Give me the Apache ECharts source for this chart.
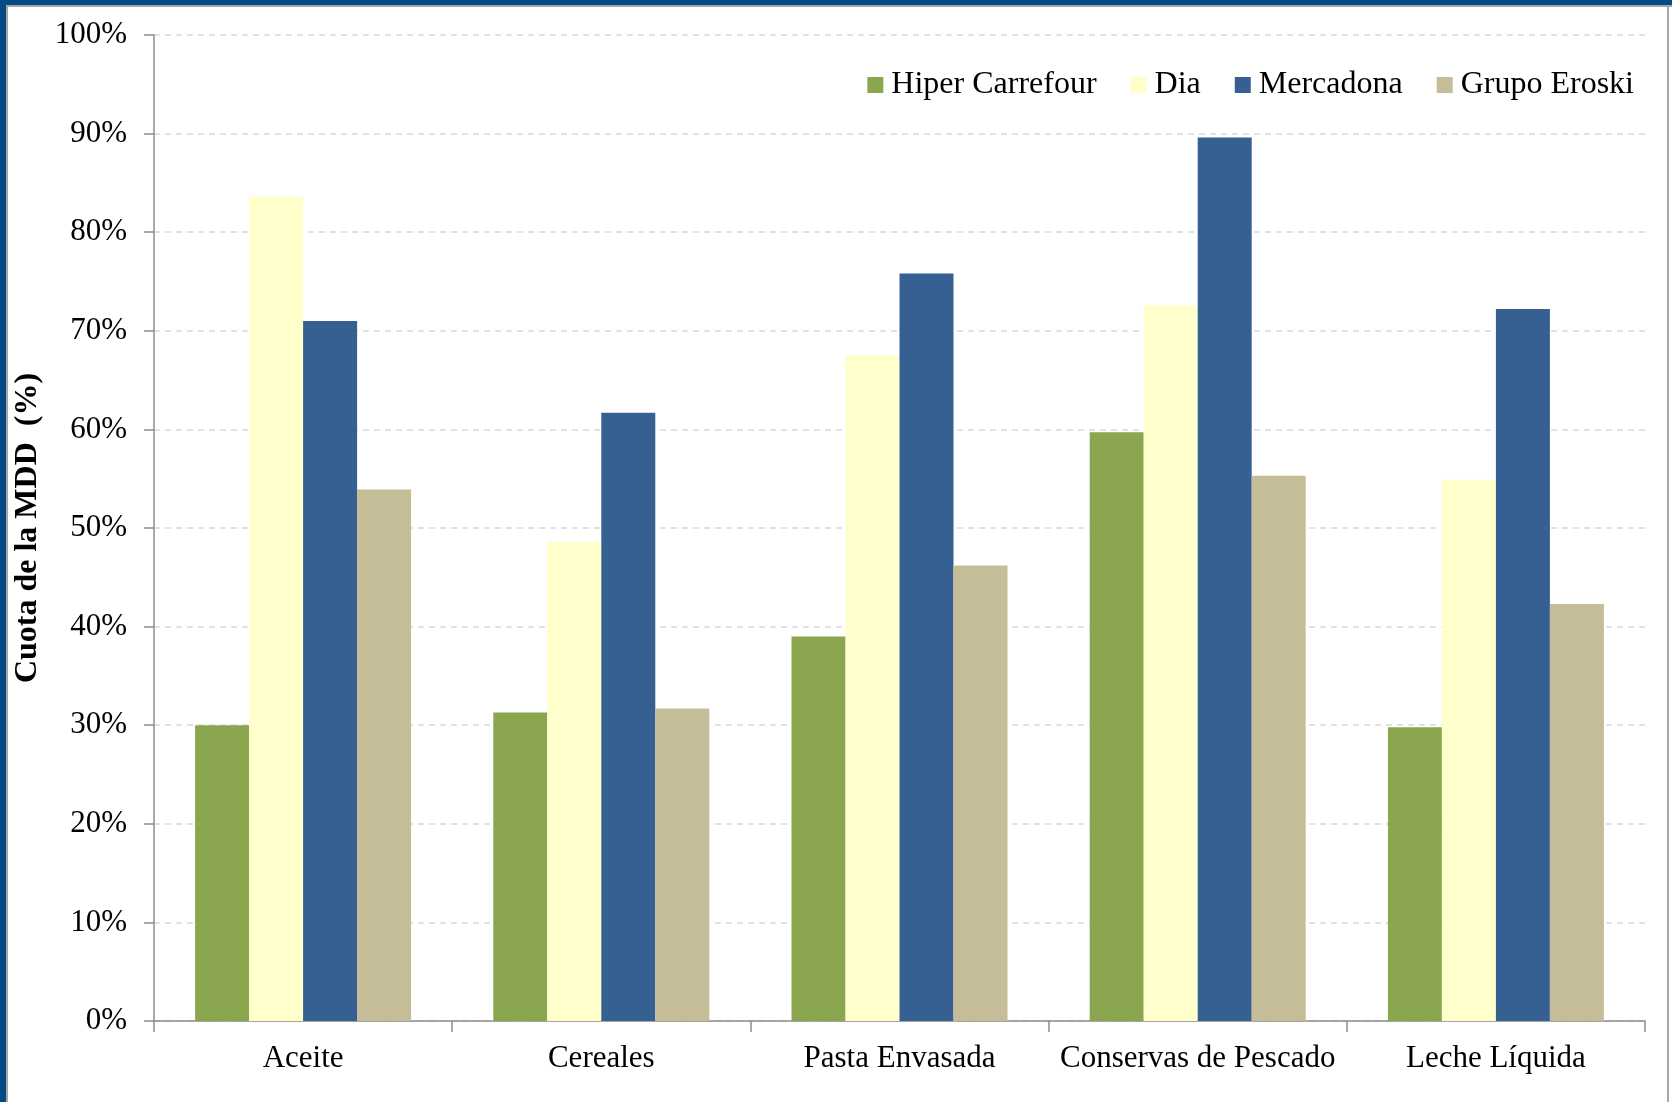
<!DOCTYPE html>
<html>
<head>
<meta charset="utf-8">
<script src="https://cdn.jsdelivr.net/npm/echarts@6/dist/echarts.min.js"></script>
<style>
html,body{margin:0;padding:0;background:#fff;}
#chart{width:1672px;height:1102px;}
</style>
</head>
<body>
<div id="chart"></div>
<script>
const categories = ['Aceite', 'Cereales', 'Pasta Envasada', 'Conservas de Pescado', 'Leche Líquida'];
const seriesNames = ['Hiper Carrefour', 'Dia', 'Mercadona', 'Grupo Eroski'];
const hiperCarrefour = [30.0, 31.3, 39.0, 59.7, 29.8];
const dia = [83.6, 48.6, 67.5, 72.6, 54.9];
const mercadona = [71.0, 61.7, 75.8, 89.6, 72.2];
const grupoEroski = [53.9, 31.7, 46.2, 55.3, 42.3];
const yTicks = [0, 10, 20, 30, 40, 50, 60, 70, 80, 90, 100];

const colors = ['#8AA64F', '#FFFFCC', '#366092', '#C4BD97'];
const values = [hiperCarrefour, dia, mercadona, grupoEroski];
const FONT = '"Liberation Serif", "Times New Roman", serif';

const chart = echarts.init(document.getElementById('chart'), null, {renderer: 'canvas'});
chart.setOption({
  backgroundColor: '#ffffff',
  animation: false,
  color: colors,
  graphic: [
    {type: 'rect', left: 0, top: 0, shape: {width: 6, height: 1102}, style: {fill: '#034A87'}, silent: true},
    {type: 'rect', left: 0, top: 0, shape: {width: 1672, height: 5}, style: {fill: '#034A87'}, silent: true},
    {type: 'rect', left: 6, top: 5, shape: {width: 2, height: 1097}, style: {fill: '#A6A6A6'}, silent: true},
    {type: 'rect', left: 6, top: 5, shape: {width: 1666, height: 2}, style: {fill: '#A6A6A6'}, silent: true},
    {type: 'rect', left: 1667, top: 5, shape: {width: 2, height: 1097}, style: {fill: '#A6A6A6'}, silent: true}
  ],
  legend: {
    right: 38,
    top: 69,
    padding: 0,
    itemWidth: 16,
    itemHeight: 16,
    itemGap: 34,
    icon: 'rect',
    textStyle: {fontFamily: FONT, fontSize: 32, color: '#000', padding: [0, 0, 0, 3]},
    data: seriesNames
  },
  grid: {left: 154, right: 27, top: 35, bottom: 81, containLabel: false},
  xAxis: {
    type: 'category',
    data: categories,
    boundaryGap: true,
    axisLine: {lineStyle: {color: '#8C8C8C', width: 1.5}},
    axisTick: {show: true, interval: 0, length: 11, lineStyle: {color: '#8C8C8C', width: 1.5}},
    axisLabel: {interval: 0, fontFamily: FONT, fontSize: 31, color: '#000', margin: 22}
  },
  yAxis: {
    type: 'value',
    min: yTicks[0],
    max: yTicks[yTicks.length - 1],
    interval: yTicks[1] - yTicks[0],
    name: 'Cuota de la MDD  (%)',
    nameLocation: 'middle',
    nameGap: 95,
    nameTextStyle: {fontFamily: FONT, fontSize: 32, fontWeight: 'bold', color: '#000'},
    axisLine: {show: true, lineStyle: {color: '#8C8C8C', width: 1.5}},
    axisTick: {show: true, length: 10, lineStyle: {color: '#8C8C8C', width: 1.5}},
    axisLabel: {fontFamily: FONT, fontSize: 31, color: '#000', margin: 27, formatter: '{value}%'},
    splitLine: {show: true, lineStyle: {color: '#D9D9D9', type: [6, 5], width: 1.5}}
  },
  series: seriesNames.map((name, i) => ({
    name: name,
    type: 'bar',
    data: values[i],
    barWidth: 54,
    barGap: '0%',
    itemStyle: {color: colors[i]}
  }))
});
</script>
</body>
</html>
